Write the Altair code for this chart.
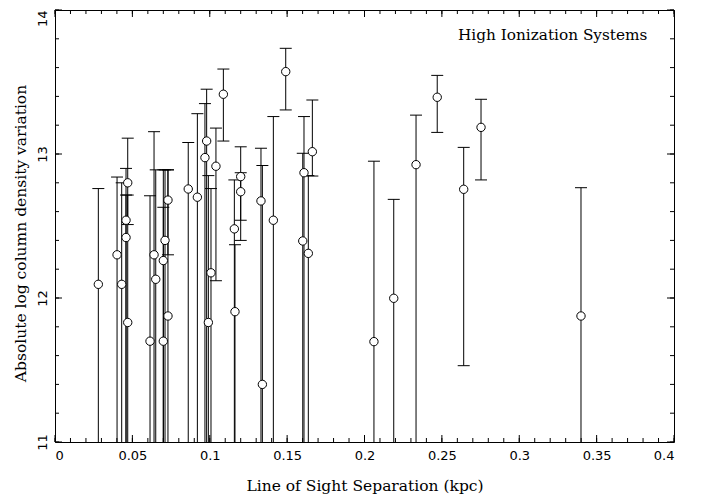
import altair as alt
import pandas as pd
import numpy as np

# Line of sight separation (kpc)
sep = [0.0280, 0.0401, 0.0431, 0.0470, 0.0459, 0.0459, 0.0470,
       0.0614, 0.0640, 0.0651, 0.0700, 0.0700, 0.0711, 0.0730, 0.0730,
       0.0861, 0.0920, 0.0969, 0.0980, 0.0991, 0.1008, 0.1040, 0.1088,
       0.1159, 0.1163, 0.1200, 0.1200, 0.1331, 0.1340, 0.1411, 0.1491,
       0.1609, 0.1601, 0.1637, 0.1663, 0.2061, 0.2189, 0.2333, 0.2470,
       0.2641, 0.2753, 0.3399]
# Absolute log column density variation
val = [12.095, 12.30, 12.095, 12.80, 12.54, 12.42, 11.83,
       11.70, 12.30, 12.13, 11.70, 12.26, 12.40, 12.68, 11.875,
       12.757, 12.70, 12.975, 13.09, 11.83, 12.175, 12.915, 13.415,
       12.48, 11.905, 12.843, 12.738, 12.674, 11.40, 12.54, 13.572,
       12.87, 12.396, 12.31, 13.016, 11.697, 11.998, 12.926, 13.394,
       12.755, 13.185, 11.875]
# upper end of error bar
upper = [12.76, 12.84, 12.80, 13.11, 12.90, 12.715, 12.715,
         12.71, 13.155, 12.89, 12.63, 12.89, 12.89, 12.89, 12.89,
         13.08, 13.28, 13.35, 13.45, 12.85, 12.76, 13.18, 13.59,
         12.82, 12.37, 13.05, 12.87, 13.04, 12.92, 13.26, 13.734,
         13.26, 13.005, 12.85, 13.375, 12.95, 12.685, 13.27, 13.546,
         13.046, 13.38, 12.766]
# lower end of error bar (None = runs below the plot)
lower = [None, None, None, 12.51, None, None, None,
         None, None, None, None, None, None, 12.30, None,
         None, None, None, None, None, None, 12.12, 13.09,
         None, None, 12.54, 12.40, None, None, None, 13.306,
         None, None, None, 12.847, None, None, None, 13.15,
         11.53, 12.82, None]

x_major = [0, 0.05, 0.1, 0.15, 0.2, 0.25, 0.3, 0.35, 0.4]
x_minor = [round(v, 2) for v in np.arange(0, 0.4001, 0.01)]
y_major = [11, 12, 13, 14]
y_minor = [round(v, 1) for v in np.arange(11, 14.001, 0.2)]

W, H = 619, 432
AX_FONT = "DejaVu Sans"
TITLE_FONT = "DejaVu Serif"

df = pd.DataFrame({
    "sep": sep, "val": val, "hi": upper,
    "lo": [l if l is not None else 11.0 for l in lower],
})
lo_df = pd.DataFrame({
    "sep": [s for s, l in zip(sep, lower) if l is not None],
    "lo": [l for l in lower if l is not None],
})

xs = alt.Scale(domain=[0, 0.4], nice=False, zero=False)
ys = alt.Scale(domain=[11, 14], nice=False, zero=False)

xaxis = alt.Axis(values=x_major, format="~g", ticks=False, domain=False, grid=False,
                 labelFont=AX_FONT, labelFontSize=13, labelColor="black", labelPadding=7,
                 title="Line of Sight Separation (kpc)", titleFont=TITLE_FONT,
                 titleFontSize=15.5, titleFontWeight="normal", titleColor="black",
                 titleX=W / 2, titleY=48, titleBaseline="alphabetic", titleAlign="center")
yaxis = alt.Axis(values=y_major, format="d", ticks=False, domain=False, grid=False,
                 labelFont=AX_FONT, labelFontSize=13, labelColor="black", labelPadding=6,
                 labelAngle=270,
                 labelAlign=alt.condition("datum.value == 14", alt.value("right"), alt.value("center")),
                 labelBaseline="bottom",
                 title="Absolute log column density variation", titleFont=TITLE_FONT,
                 titleFontSize=15.5, titleFontWeight="normal", titleColor="black",
                 titleX=-27, titleY=223, titleAngle=270, titleBaseline="bottom",
                 titleAlign="center")

X = lambda f: alt.X(f, type="quantitative", scale=xs, axis=xaxis)
Y = lambda f: alt.Y(f, type="quantitative", scale=ys, axis=yaxis)

bars = alt.Chart(df).mark_rule(color="black", strokeWidth=1).encode(
    x=X("sep"), y=Y("lo"), y2="hi")
caps_hi = alt.Chart(df).mark_tick(orient="horizontal", size=12, thickness=1, color="black",
                                  opacity=1).encode(x=X("sep"), y=Y("hi"))
caps_lo = alt.Chart(lo_df).mark_tick(orient="horizontal", size=12, thickness=1, color="black",
                                     opacity=1).encode(x=X("sep"), y=Y("lo"))
points = alt.Chart(df).mark_point(shape="circle", size=70, filled=True, fill="white",
                                  stroke="black", strokeWidth=1, opacity=1).encode(
    x=X("sep"), y=Y("val"))

def xticks(vals, length):
    d = pd.DataFrame({"t": vals})
    b = alt.Chart(d).mark_rule(color="black", strokeWidth=1).encode(
        x=X("t"), y=alt.value(H), y2=alt.value(H - length))
    t = alt.Chart(d).mark_rule(color="black", strokeWidth=1).encode(
        x=X("t"), y=alt.value(0), y2=alt.value(length))
    return [b, t]

def yticks(vals, length):
    d = pd.DataFrame({"t": vals})
    l = alt.Chart(d).mark_rule(color="black", strokeWidth=1).encode(
        y=Y("t"), x=alt.value(0), x2=alt.value(length))
    r = alt.Chart(d).mark_rule(color="black", strokeWidth=1).encode(
        y=Y("t"), x=alt.value(W), x2=alt.value(W - length))
    return [l, r]

label = alt.Chart(pd.DataFrame({"label": ["High Ionization Systems"]})).mark_text(
    align="left", baseline="alphabetic", font=TITLE_FONT, fontSize=15.3, color="black").encode(
    x=alt.value(403), y=alt.value(29.5), text="label:N")

layers = [bars, caps_hi, caps_lo, points] + xticks(x_minor, 4) + xticks(x_major, 7) \
    + yticks(y_minor, 4) + yticks(y_major, 7) + [label]

chart = alt.layer(*layers).properties(
    width=W, height=H,
    padding={"left": 47, "top": 2, "right": 20, "bottom": 54},
    autosize=alt.AutoSizeParams(type="none"),
).configure_view(stroke="black", strokeWidth=1)

chart.save("out.html", embed_options={"renderer": "svg", "actions": False})
